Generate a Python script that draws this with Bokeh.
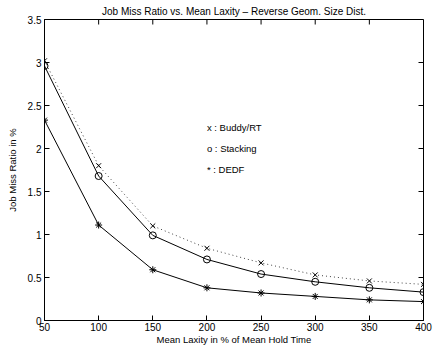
from bokeh.plotting import figure
from bokeh.models import FixedTicker, Range1d, Label
from bokeh.embed import file_html
from bokeh.resources import INLINE

laxity = [50, 100, 150, 200, 250, 300, 350, 400]
buddy = [3.02, 1.80, 1.10, 0.84, 0.67, 0.53, 0.46, 0.42]
stacking = [2.96, 1.68, 0.99, 0.71, 0.54, 0.45, 0.38, 0.33]
dedf = [2.33, 1.11, 0.59, 0.38, 0.32, 0.28, 0.24, 0.22]

x_ticks = [50, 100, 150, 200, 250, 300, 350, 400]
y_ticks = [0, 0.5, 1, 1.5, 2, 2.5, 3, 3.5]
y_tick_labels = ["0", "0.5", "1", "1.5", "2", "2.5", "3", "3.5"]
legend_texts = ["x : Buddy/RT", "o : Stacking", "* : DEDF"]
legend_y = [2.24, 2.0, 1.76]

X_MIN, X_MAX = 50, 400
Y_MIN, Y_MAX = 0, 3.5
FRAME_W, FRAME_H = 379, 301
TICK_PX = 5

FONT = "Liberation Sans"

p = figure(frame_width=FRAME_W, frame_height=FRAME_H, output_backend="svg", toolbar_location=None,
           x_range=Range1d(X_MIN, X_MAX), y_range=Range1d(Y_MIN, Y_MAX),
           min_border_left=44, min_border_right=10, min_border_top=19, min_border_bottom=27,
           title="Job Miss Ratio vs. Mean Laxity \u2013 Reverse Geom. Size Dist.")
p.title.text_font = FONT
p.title.text_font_size = "10px"
p.title.text_font_style = "normal"
p.title.text_color = "black"
p.title.align = "center"
p.title.offset = 0
p.title.standoff = 5
p.outline_line_color = "black"
p.outline_line_width = 1
p.xgrid.visible = False
p.ygrid.visible = False

p.xaxis.ticker = FixedTicker(ticks=x_ticks)
p.xaxis.axis_label = "Mean Laxity in % of Mean Hold Time"
p.yaxis.ticker = FixedTicker(ticks=y_ticks)
p.yaxis.major_label_overrides = {t: l for t, l in zip(y_ticks, y_tick_labels)}
p.yaxis.axis_label = "Job Miss Ratio in %"

for ax in [p.xaxis[0], p.yaxis[0]]:
    ax.major_tick_in = TICK_PX
    ax.major_tick_out = 0
    ax.minor_tick_in = 0
    ax.minor_tick_out = 0
    ax.axis_line_color = "black"
    ax.major_tick_line_color = "black"
    ax.major_label_text_font = FONT
    ax.major_label_text_font_size = "10px"
    ax.major_label_text_color = "black"
    ax.axis_label_text_font = FONT
    ax.axis_label_text_font_size = "9.5px"
    ax.axis_label_text_font_style = "normal"
    ax.axis_label_text_color = "black"
    ax.major_label_standoff = 2
    ax.axis_label_standoff = 0
p.yaxis.major_label_standoff = 3
p.yaxis.axis_label_standoff = 7

# inward ticks on the top and right edges
dy = (Y_MAX - Y_MIN) / FRAME_H * TICK_PX
dx = (X_MAX - X_MIN) / FRAME_W * TICK_PX
p.segment(x0=x_ticks, y0=[Y_MAX] * len(x_ticks), x1=x_ticks, y1=[Y_MAX - dy] * len(x_ticks),
          line_color="black", line_width=1)
p.segment(x0=[X_MAX] * len(y_ticks), y0=y_ticks, x1=[X_MAX - dx] * len(y_ticks), y1=y_ticks,
          line_color="black", line_width=1)

p.line(laxity, buddy, line_color="#444444", line_width=1, line_dash="1 3")
p.scatter(laxity, buddy, marker="x", size=7, line_color="black", line_width=1)
p.line(laxity, stacking, line_color="black", line_width=1)
p.scatter(laxity, stacking, marker="circle", size=7, line_color="black", fill_color=None, line_width=1)
p.line(laxity, dedf, line_color="black", line_width=1)
p.scatter(laxity, dedf, marker="asterisk", size=7, line_color="black", line_width=1)

for t, yv in zip(legend_texts, legend_y):
    p.add_layout(Label(x=200, y=yv, text=t, text_font=FONT, text_font_size="9.5px",
                       text_color="black", text_baseline="middle", text_align="left"))

open("out.html", "w").write(file_html(p, INLINE))
